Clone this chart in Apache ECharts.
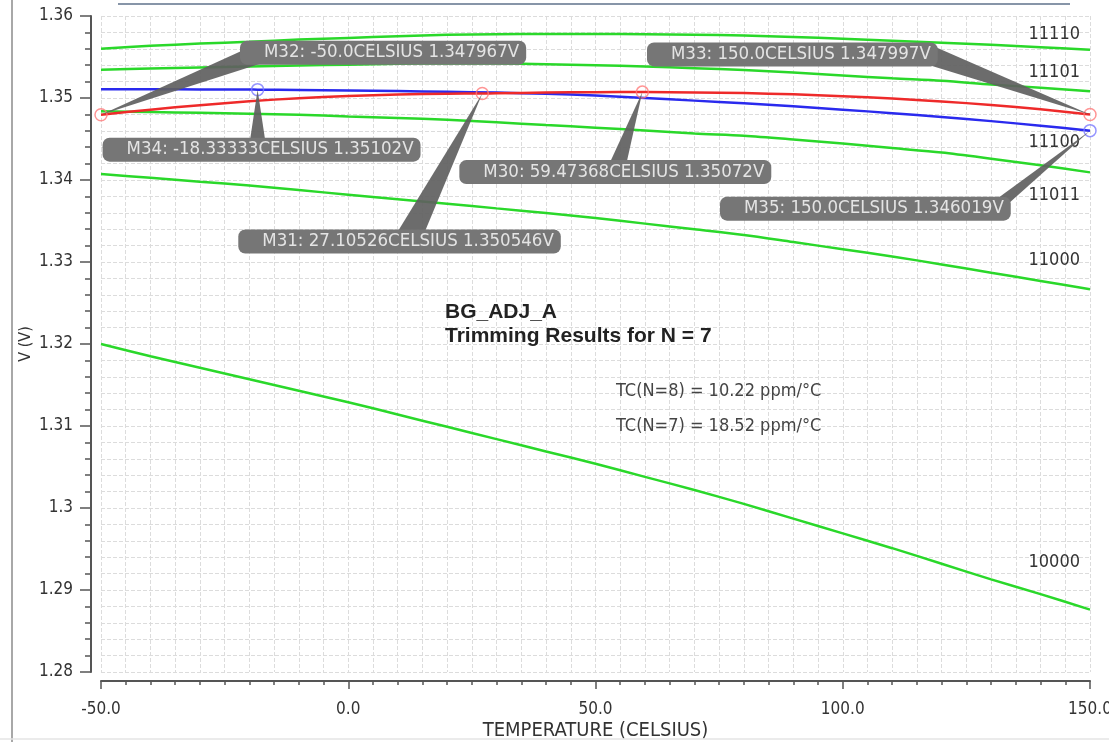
<!DOCTYPE html>
<html><head><meta charset="utf-8">
<script src="https://cdn.jsdelivr.net/npm/echarts@6/dist/echarts.min.js"></script>
<style>html,body{margin:0;padding:0;background:#fff}#c{width:1109px;height:742px}</style>
</head><body><div id="c"></div>
<script>
// ---------------- data ----------------
const temps = [-50,-40,-30,-20,-10,0,10,20,30,40,50,60,70,80,90,100,110,120,130,140,150];
const curve1 = [1.35601,1.35636,1.35664,1.35686,1.35712,1.35733,1.35752,1.35770,1.35778,1.35782,1.35782,1.35778,1.35772,1.35762,1.35744,1.35722,1.35698,1.35675,1.35648,1.35620,1.35589];
const curve2 = [1.35345,1.35360,1.35372,1.35384,1.35396,1.35407,1.35418,1.35422,1.35420,1.35412,1.35400,1.35384,1.35364,1.35340,1.35310,1.35275,1.35240,1.35210,1.35165,1.35125,1.35083];
const curve3 = [1.34839,1.34829,1.34819,1.34808,1.34795,1.34775,1.34757,1.34735,1.34703,1.34670,1.34638,1.34604,1.34567,1.34540,1.34495,1.34445,1.34390,1.34335,1.34260,1.34180,1.34093];
const curve4 = [1.34073,1.34026,1.33979,1.33932,1.33877,1.33821,1.33765,1.33710,1.33654,1.33598,1.33537,1.33468,1.33400,1.33330,1.33243,1.33156,1.33068,1.32970,1.32869,1.32769,1.32668];
const curve5 = [1.3200,1.3185,1.3171,1.3157,1.3143,1.3129,1.3114,1.3099,1.3084,1.3069,1.3054,1.3038,1.3022,1.3005,1.2987,1.2969,1.2951,1.2932,1.2913,1.2895,1.2876];
const redTemps  = [-50,-40,-30,-20,-10,0,10,20,27.10526,30,40,50,59.47368,60,70,80,90,100,110,120,130,140,150];
const redVolts  = [1.347967,1.34858,1.34912,1.34960,1.34998,1.35025,1.35043,1.35052,1.350546,1.35058,1.35066,1.35071,1.35072,1.35072,1.35068,1.35060,1.35045,1.35022,1.34993,1.34958,1.34915,1.34862,1.347997];
const blueTemps = [-50,-40,-30,-20,-18.33333,-10,0,10,20,30,40,50,60,70,80,90,100,110,120,130,140,150];
const blueVolts = [1.35106,1.35106,1.35105,1.35103,1.35102,1.35098,1.35092,1.35084,1.35076,1.35066,1.35051,1.35030,1.35000,1.34968,1.34935,1.34898,1.34858,1.34815,1.34768,1.34718,1.34662,1.346019];
const markerNames = ['M32','M33','M34','M30','M35','M31'];
const markerTemps = [-50.0, 150.0, -18.33333, 59.47368, 150.0, 27.10526];
const markerVolts = [1.347967, 1.347997, 1.35102, 1.35072, 1.346019, 1.350546];
const markerCurve = ['red','red','blue','red','blue','red'];
const codeLabels = ['11110','11101','11100','11011','11000','10000'];
const xTicks = [-50, 0, 50, 100, 150];
const yTicks = [1.28,1.29,1.30,1.31,1.32,1.33,1.34,1.35,1.36];

// ---------------- layout / style ----------------
const NARROW = '"DejaVu Sans Condensed","Liberation Sans Narrow",sans-serif';
const GREEN = '#2ad82a', RED = '#ee2a2a', BLUE = '#2a2aee';
const pairs = (ts, vs) => ts.map((t, i) => [t, vs[i]]);
const gridStyle = {color: '#dcdcdc', width: 1, type: [4, 2]};

const chart = echarts.init(document.getElementById('c'));
const greens = [curve1, curve2, curve3, curve4, curve5];
const series = greens.map((c, i) => ({
  name: 'g' + i, type: 'line', data: pairs(temps, c), showSymbol: false, smooth: 0.3,
  lineStyle: {color: GREEN, width: 2.5}, z: 3, silent: true
}));
series.push({name: 'blue', type: 'line', data: pairs(blueTemps, blueVolts), showSymbol: false, smooth: 0.3,
  lineStyle: {color: BLUE, width: 2.5}, z: 4, silent: true});
series.push({name: 'red', type: 'line', data: pairs(redTemps, redVolts), showSymbol: false, smooth: 0.3,
  lineStyle: {color: RED, width: 2.5}, z: 4, silent: true});
series.push({name: 'markers', type: 'scatter', symbol: 'circle', symbolSize: 12, z: 6, silent: true,
  data: markerTemps.map((t, i) => ({value: [t, markerVolts[i]],
    itemStyle: {color: 'rgba(0,0,0,0)', borderWidth: 1.5,
      borderColor: markerCurve[i] === 'red' ? '#ff7a7a' : '#7a7aff'}}))});

chart.setOption({
  animation: false,
  backgroundColor: '#fff',
  grid: {left: 101, right: 19, top: 16, bottom: 70, containLabel: false, outerBoundsMode: 'none'},
  xAxis: {
    type: 'value', min: xTicks[0], max: xTicks[xTicks.length - 1], interval: xTicks[1] - xTicks[0],
    offset: 9,
    name: 'TEMPERATURE (CELSIUS)', nameLocation: 'middle', nameGap: 40, nameMoveOverlap: false,
    nameTextStyle: {fontFamily: NARROW, fontSize: 20, color: '#333'},
    axisLine: {onZero: false, lineStyle: {color: '#555', width: 2}},
    axisTick: {length: 8, lineStyle: {color: '#555', width: 1.5}},
    minorTick: {show: true, splitNumber: 10, length: 4, lineStyle: {color: '#555', width: 1.5}},
    splitLine: {show: true, lineStyle: gridStyle},
    minorSplitLine: {show: true, lineStyle: gridStyle},
    axisLabel: {formatter: v => v.toFixed(1), fontFamily: NARROW, fontSize: 17, color: '#333', margin: 20,
      showMinLabel: true, showMaxLabel: true}
  },
  yAxis: {
    type: 'value', min: yTicks[0], max: yTicks[yTicks.length - 1], interval: 0.01,
    offset: 10,
    name: 'V (V)', nameLocation: 'middle', nameGap: 57, nameMoveOverlap: false,
    nameTextStyle: {fontFamily: NARROW, fontSize: 16, color: '#333'},
    axisLine: {show: true, onZero: false, lineStyle: {color: '#555', width: 2}},
    axisTick: {show: true, length: 11, lineStyle: {color: '#555', width: 1.5}},
    minorTick: {show: true, splitNumber: 5, length: 6, lineStyle: {color: '#555', width: 1.5}},
    splitLine: {show: true, lineStyle: gridStyle},
    minorSplitLine: {show: true, lineStyle: gridStyle},
    axisLabel: {formatter: v => String(+v.toFixed(2)), fontFamily: NARROW, fontSize: 17, color: '#333', margin: 18,
      showMinLabel: true, showMaxLabel: true}
  },
  series
});

// ---------------- annotations ----------------
// box offset (dx,dy) of box top-left from the marker, wedge attach (ax,ay) from the marker, wedge half width
const boxLayout = {
  M32: {dx: 139, dy: -74, ax: 161, ay: -62, hw: 10},
  M33: {dx: -443, dy: -72, ax: -165, ay: -61, hw: 10},
  M34: {dx: -155, dy: 48, ax: 0, ay: 60, hw: 9},
  M30: {dx: -183, dy: 68, ax: -27, ay: 80, hw: 9},
  M35: {dx: -370, dy: 66, ax: -95, ay: 77, hw: 6},
  M31: {dx: -244, dy: 136, ax: -76, ay: 149, hw: 13}
};
const codePos = [34, 72, 142, 195, 260, 562]; // pixel centres of the code labels
const fmtT = t => Number.isInteger(t) ? t.toFixed(1) : String(t);

const graphics = [
  {type: 'line', shape: {x1: 12, y1: 0, x2: 12, y2: 742}, style: {stroke: '#a8a8a8', lineWidth: 2}, z: 60},
  {type: 'line', shape: {x1: 118, y1: 4, x2: 1070, y2: 4}, style: {stroke: '#8795a8', lineWidth: 2}, z: 60},
  {type: 'line', shape: {x1: 0, y1: 739, x2: 1109, y2: 739}, style: {stroke: '#e4e4e4', lineWidth: 1.5}, z: 60}
];
codeLabels.forEach((c, i) => graphics.push({type: 'text', x: 1080, y: codePos[i], z: 40,
  style: {text: c, font: '18px ' + NARROW, fill: '#333', align: 'right', verticalAlign: 'middle'}}));
graphics.push({type: 'text', x: 445, y: 312, z: 40,
  style: {text: 'BG_ADJ_A', font: 'bold 21px "Liberation Sans",Arial,sans-serif', fill: '#222', verticalAlign: 'middle'}});
graphics.push({type: 'text', x: 445, y: 336, z: 40,
  style: {text: 'Trimming Results for N = 7', font: 'bold 21px "Liberation Sans",Arial,sans-serif', fill: '#222', verticalAlign: 'middle'}});
graphics.push({type: 'text', x: 616, y: 391, z: 40,
  style: {text: 'TC(N=8) = 10.22 ppm/°C', font: '18px ' + NARROW, fill: '#444', verticalAlign: 'middle'}});
graphics.push({type: 'text', x: 616, y: 426, z: 40,
  style: {text: 'TC(N=7) = 18.52 ppm/°C', font: '18px ' + NARROW, fill: '#444', verticalAlign: 'middle'}});

markerNames.forEach((n, i) => {
  const p = chart.convertToPixel({gridIndex: 0}, [markerTemps[i], markerVolts[i]]);
  const L = boxLayout[n];
  const bx = p[0] + L.ax, by = p[1] + L.ay;
  const vx = bx - p[0], vy = by - p[1], len = Math.hypot(vx, vy);
  const nx = -vy / len * L.hw, ny = vx / len * L.hw;
  graphics.push({type: 'polygon', z: 50, shape: {points: [[p[0], p[1]], [bx + nx, by + ny], [bx - nx, by - ny]]},
    style: {fill: 'rgba(95,95,95,0.92)'}});
  graphics.push({type: 'text', x: p[0] + L.dx, y: p[1] + L.dy, z: 51,
    style: {text: n + ': ' + fmtT(markerTemps[i]) + 'CELSIUS ' + markerVolts[i] + 'V',
      font: '18.5px ' + NARROW, fill: '#e4e4e4', backgroundColor: '#767676',
      padding: [2, 7, 2, 24], borderRadius: 7, lineHeight: 20}});
});
chart.setOption({graphic: {elements: graphics}});
</script></body></html>
